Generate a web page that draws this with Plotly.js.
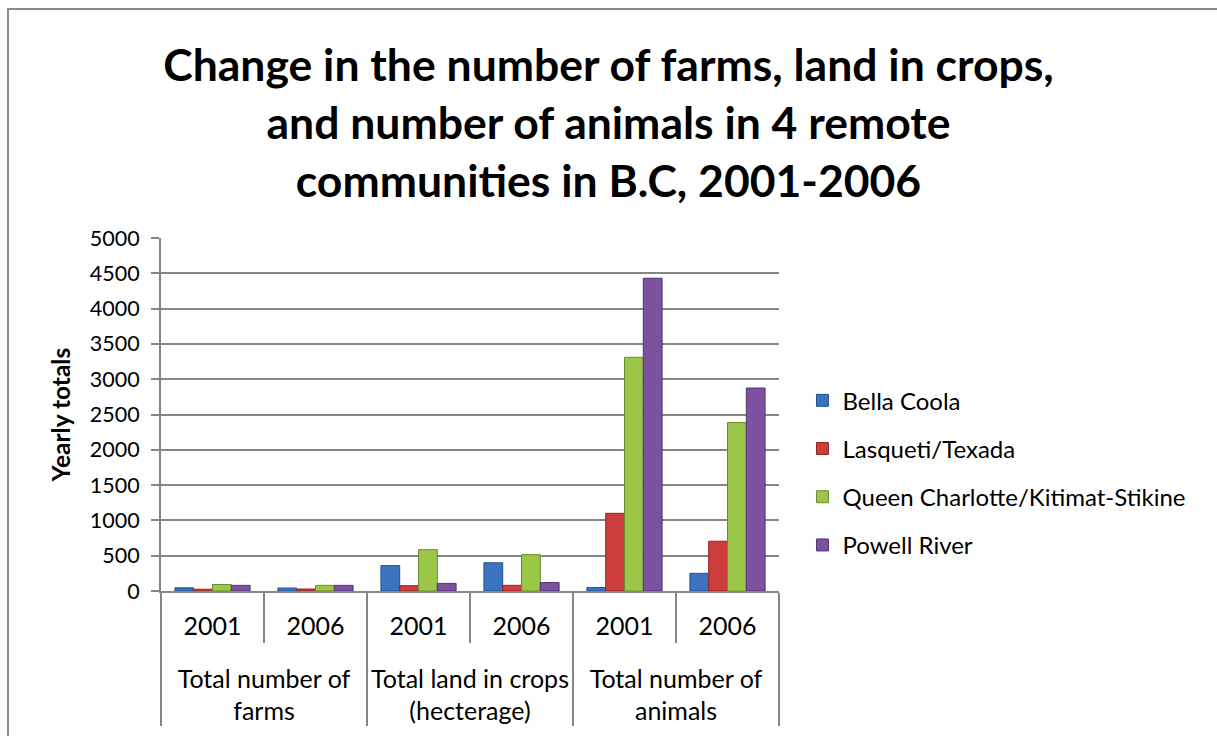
<!DOCTYPE html>
<html>
<head>
<meta charset="utf-8">
<script src="https://cdn.plot.ly/plotly-3.0.1.min.js"></script>
<style>
html,body{margin:0;padding:0;overflow:hidden;background:#fff;}
#chart{width:1217px;height:736px;}
#frame{position:absolute;left:7px;top:8px;width:1400px;height:900px;border-left:2px solid #8a8a8a;border-top:2px solid #8a8a8a;pointer-events:none;}
</style>
</head>
<body>
<div id="chart"></div>
<div id="frame"></div>
<script>
const groups = ["<br>Total number of<br>farms", "<br>Total number of<br>farms",
                "<br>Total land in crops<br>(hecterage)", "<br>Total land in crops<br>(hecterage)",
                "<br>Total number of<br>animals", "<br>Total number of<br>animals"];
const years = ["2001", "2006", "2001", "2006", "2001", "2006"];
const seriesNames = ["Bella Coola", "Lasqueti/Texada", "Queen Charlotte/Kitimat-Stikine", "Powell River"];
const bellaCoola     = [45, 42, 360, 400, 50, 250];
const lasquetiTexada = [25, 28, 75, 80, 1100, 705];
const queenCharlotte = [92, 80, 585, 515, 3310, 2385];
const powellRiver    = [80, 80, 108, 120, 4430, 2875];
const seriesValues = [bellaCoola, lasquetiTexada, queenCharlotte, powellRiver];
const fillColors = ["#3a74c1", "#cd3d3b", "#9bc647", "#7b51a0"];
const edgeColors = ["#24518c", "#8e2624", "#6a8c2c", "#533572"];
const yTicks = [0, 500, 1000, 1500, 2000, 2500, 3000, 3500, 4000, 4500, 5000];

const traces = seriesNames.map((name, i) => ({
  type: 'bar',
  name: name,
  legendgroup: 'g' + i,
  x: [groups, years],
  y: seriesValues[i],
  marker: {color: fillColors[i], line: {color: edgeColors[i], width: 1}},
  hoverinfo: 'name+y'
}));

const font = 'Lato, "Open Sans", sans-serif';
const layout = {
  width: 1217, height: 736,
  margin: {l: 161, r: 438, t: 238, b: 145},
  paper_bgcolor: '#ffffff', plot_bgcolor: '#ffffff',
  font: {family: font, size: 22, color: '#000'},
  title: {
    text: '<b>Change in the number of farms, land in crops,<br>and number of animals in 4 remote<br>communities in B.C, 2001-2006</b>',
    font: {family: font, size: 44.5, color: '#000'},
    x: 0.5, xanchor: 'center', xref: 'container',
    y: 1 - 81/736, yanchor: 'top', yref: 'container'
  },
  barmode: 'group',
  bargap: 0.27,
  bargroupgap: 0,
  showlegend: true,
  legend: {
    x: 1.038, xanchor: 'left', y: 0.335, yanchor: 'middle',
    font: {family: font, size: 24, color: '#000'},
    tracegroupgap: 14, traceorder: 'grouped',
    bgcolor: 'rgba(0,0,0,0)'
  },
  xaxis: {
    type: 'multicategory',
    showline: true, linecolor: '#868686', linewidth: 2,
    ticks: 'outside', tickson: 'boundaries', ticklen: 50, tickcolor: '#868686', tickwidth: 2,
    ticklabelstandoff: 12,
    showdividers: true, dividercolor: '#868686', dividerwidth: 2,
    showgrid: false,
    tickfont: {family: font, size: 25, color: '#000'}
  },
  yaxis: {
    range: [0, 5000],
    tickvals: yTicks,
    ticktext: yTicks.map(String),
    showgrid: true, gridcolor: '#868686', gridwidth: 2,
    showline: true, linecolor: '#868686', linewidth: 2,
    ticks: 'outside', ticklen: 8, tickcolor: '#868686', tickwidth: 2,
    ticklabelstandoff: 7,
    zeroline: false,
    tickfont: {family: font, size: 21.5, color: '#000'},
    title: {text: '<b>Yearly totals</b>', font: {family: font, size: 24.5, color: '#000'}, standoff: 12}
  }
};

Plotly.newPlot('chart', traces, layout, {displayModeBar: false, staticPlot: true});
</script>
</body>
</html>
